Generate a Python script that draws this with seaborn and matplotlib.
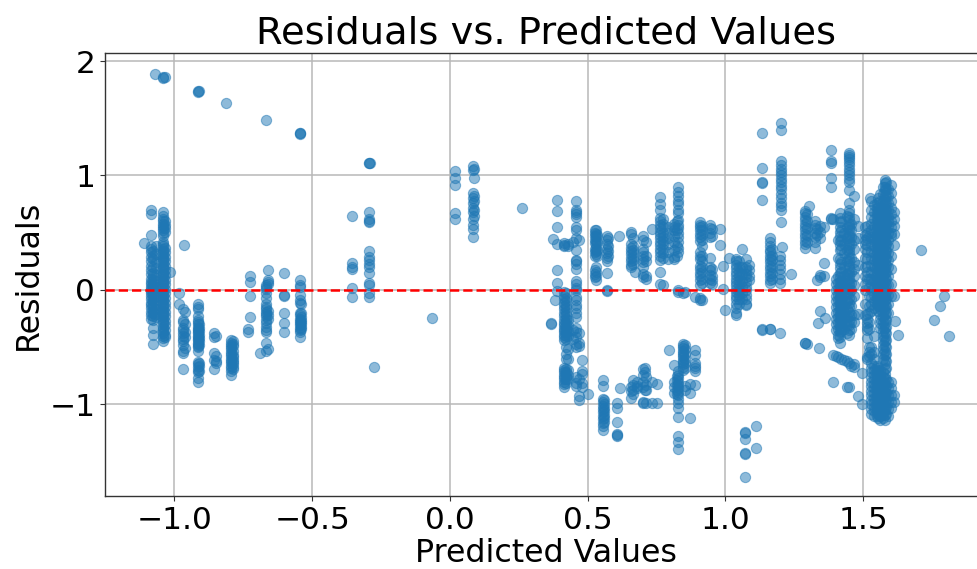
"""
Residuals vs. predicted values scatter
"""

import pandas as pd
import matplotlib
matplotlib.use('Agg')
import matplotlib.pyplot as plt
import seaborn as sns

# ─── Data (one list of residuals per predicted value) ───
arc_pred = [-1.07, -1.04, -1.04, -1.035, -0.914, -0.912, -0.915, -0.812, -0.667, -0.544, -0.544, -0.543,
            -0.292, -0.292, -0.291]
arc_resid = [1.89, 1.86, 1.855, 1.86, 1.735, 1.735, 1.73, 1.637, 1.488, 1.368, 1.365, 1.37,
             1.11, 1.105, 1.11]

left_pred = [-1.11, -1.086, -1.076, -1.068, -1.042, -1.036, -1.016, -0.983, -0.97, -0.964, -0.962, -0.914, -0.91,
             -0.856, -0.85, -0.793, -0.788, -0.733, -0.725, -0.69, -0.668, -0.66, -0.604, -0.544, -0.54]
left_resid = [
    [0.41],
    [0.70, 0.667, 0.48, 0.38, 0.36, 0.33, 0.29, 0.25, 0.21, 0.17, 0.14, 0.10, 0.07, 0.05, 0.03, 0.01, -0.01,
     -0.03, -0.05, -0.08, -0.11, -0.13, -0.16, -0.19, -0.22, -0.25],
    [0.34, 0.30, 0.27, 0.20, 0.15, 0.12, 0.09, 0.06, 0.04, 0.02, 0.0, -0.02, -0.04, -0.07, -0.1, -0.12, -0.15,
     -0.18, -0.2, -0.23, -0.26, -0.33, -0.39, -0.47],
    [0.38, 0.31, 0.24, 0.19, 0.13, 0.08, 0.03, -0.02, -0.06, -0.12, -0.17, -0.21, -0.24],
    [0.68, 0.65, 0.62, 0.60, 0.58, 0.56, 0.54, 0.52, 0.50, 0.47, 0.42, 0.40, 0.38, 0.36, 0.34, 0.32, 0.30, 0.28,
     0.26, 0.24, 0.22, 0.20, 0.18, 0.16, 0.14, 0.12, 0.10, 0.08, 0.06, 0.04, 0.02, 0.0, -0.02, -0.04, -0.06,
     -0.08, -0.10, -0.12, -0.14, -0.16, -0.18, -0.20, -0.22, -0.24, -0.26, -0.28, -0.30, -0.32, -0.34, -0.36,
     -0.38, -0.40, -0.42, -0.45],
    [0.60, 0.57, 0.54, 0.51, 0.37, 0.33, 0.29, 0.25, 0.21, 0.17, 0.13, 0.09, 0.05, 0.01, -0.03, -0.07, -0.11,
     -0.15, -0.19, -0.23, -0.27, -0.31, -0.35, -0.39, -0.41],
    [0.16],
    [-0.03, -0.125],
    [-0.17, -0.26, -0.28, -0.33, -0.35, -0.38, -0.40, -0.43, -0.45, -0.48, -0.53, -0.55, -0.69],
    [0.395],
    [-0.19, -0.30, -0.37, -0.41, -0.51],
    [-0.12, -0.15, -0.17, -0.23, -0.26, -0.28, -0.30, -0.32, -0.34, -0.35, -0.37, -0.38, -0.40, -0.41, -0.43,
     -0.44, -0.46, -0.47, -0.49, -0.50, -0.53, -0.63, -0.65, -0.67, -0.70, -0.72, -0.77, -0.80],
    [-0.30, -0.33, -0.36, -0.39, -0.42, -0.45, -0.48, -0.64, -0.66, -0.71],
    [-0.38, -0.41, -0.555, -0.61, -0.69],
    [-0.40, -0.575, -0.62, -0.64],
    [-0.44, -0.46, -0.48, -0.50, -0.52, -0.54, -0.56, -0.58, -0.60, -0.62, -0.64, -0.66, -0.68, -0.71, -0.745],
    [-0.45, -0.47, -0.49, -0.53, -0.57, -0.59, -0.61, -0.63, -0.65, -0.67, -0.69],
    [-0.365, -0.34],
    [0.07, -0.05, -0.235, 0.12],
    [-0.555],
    [0.045, 0.03, 0.01, -0.03, -0.07, -0.12, -0.15, -0.17, -0.19, -0.21, -0.23, -0.26, -0.29, -0.32, -0.35,
     -0.37, -0.46, -0.53],
    [0.17, 0.09, 0.07, 0.05, -0.18, -0.22, -0.25, -0.52],
    [0.15, -0.045, -0.05, -0.205, -0.285, -0.365],
    [0.09, 0.045, 0.025, -0.04, -0.085, -0.115, -0.2, -0.22, -0.25, -0.27, -0.29, -0.31, -0.33, -0.35, -0.37,
     -0.41],
    [-0.12, -0.2, -0.24, -0.26, -0.28, -0.30, -0.32, -0.34],
]

mid_pred = [-0.356, -0.292, -0.274, -0.064, 0.02, 0.085, 0.088, 0.26]
mid_resid = [
    [0.65, 0.234, 0.20, 0.185, 0.015, -0.06],
    [0.68, 0.62, 0.60, 0.59, 0.336, 0.29, 0.26, 0.23, 0.2, 0.146, 0.06, 0.04, -0.03, -0.06],
    [-0.675],
    [-0.243],
    [1.04, 0.98, 0.92, 0.67, 0.62],
    [1.08, 1.05, 0.85, 0.80, 0.76, 0.72, 0.68, 0.62, 0.57, 0.53, 0.46],
    [1.06, 0.98, 0.82, 0.78, 0.70, 0.65],
    [0.72],
]

low_pred = [0.366, 0.373, 0.38, 0.39, 0.415, 0.42, 0.43, 0.445, 0.459, 0.47, 0.48, 0.50]
low_resid = [
    [-0.286, -0.30],
    [0.443],
    [-0.087],
    [0.787, 0.69, 0.554, 0.40, 0.17, 0.058, -0.01],
    [0.41, 0.39, 0.38, -0.02, -0.05, -0.08, -0.11, -0.14, -0.17, -0.20, -0.23, -0.26, -0.29, -0.31, -0.33, -0.35,
     -0.37, -0.39, -0.41, -0.44, -0.68, -0.70, -0.72, -0.74, -0.76, -0.78, -0.80, -0.82, -0.845],
    [-0.03, -0.07, -0.10, -0.13, -0.16, -0.19, -0.22, -0.25, -0.28, -0.31, -0.34, -0.37, -0.40, -0.43, -0.50,
     -0.56, -0.60, -0.69, -0.72, -0.75, -0.78, -0.81],
    [0.40, 0.38, -0.26, -0.31, -0.36, -0.40, -0.52, -0.60, -0.70, -0.74, -0.78],
    [0.42, -0.35, -0.43],
    [0.78, 0.70, 0.68, 0.66, 0.64, 0.55, 0.52, 0.45, 0.35, 0.26, 0.25, 0.23, 0.18, 0.08, 0.05, 0.02, 0.0, -0.06,
     -0.09, -0.13, -0.16, -0.20, -0.24, -0.33, -0.37, -0.41, -0.47, -0.50, -0.76, -0.81, -0.84],
    [0.44, -0.38, -0.46, -0.49, -0.78, -0.93, -0.96],
    [-0.61, -0.81, -0.85, -0.73, -0.71],
    [-0.91],
]

center_pred = [0.525, 0.53, 0.535, 0.554, 0.56, 0.569, 0.575, 0.607, 0.613, 0.617, 0.657, 0.665, 0.67, 0.68,
               0.702, 0.71, 0.708, 0.732, 0.75, 0.762, 0.775, 0.79, 0.796, 0.813, 0.825, 0.829, 0.847, 0.852,
               0.87, 0.889, 0.907, 0.915, 0.943, 0.95, 0.98, 0.99, 1.0, 1.013, 1.04, 1.05, 1.06, 1.07, 1.076,
               1.085, 1.11]
center_resid = [
    [0.52, 0.50, 0.47, 0.44, 0.41, 0.36, 0.33, 0.30, 0.17, 0.14, 0.11],
    [0.525, 0.49, 0.46, 0.43, 0.40, 0.37, 0.34, 0.31, 0.20, 0.16, 0.12, 0.09],
    [0.48, 0.42, 0.35, 0.30],
    [-0.79, -0.84, -0.95, -0.98, -1.01, -1.04, -1.07, -1.10, -1.13, -1.16, -1.19, -1.22],
    [-0.96, -1.00, -1.03, -1.06, -1.09, -1.12, -1.15],
    [0.47, 0.44, 0.40, 0.36, 0.32, 0.28, 0.25, 0.15, 0.0, -0.005],
    [0.45, 0.38, 0.34, 0.30],
    [-0.99, -1.035, -1.15, -1.26, -1.27, -1.28],
    [0.47],
    [-0.86],
    [0.51, 0.49, 0.40, 0.37, 0.34, 0.31, 0.28, 0.25, 0.22, 0.20, -0.85, -0.88, -0.94],
    [0.45, 0.38, 0.35, 0.32, 0.29, 0.26, 0.23, -0.79, -0.83, -0.87, -0.91],
    [0.16],
    [-0.80, -0.84, -0.86],
    [0.47, 0.44, 0.36, 0.33, 0.30, 0.27, 0.24, 0.20, 0.14, 0.11, -0.69, -0.74, -0.80, -0.85, -0.98, -0.99],
    [0.42, 0.30, 0.25, 0.12, 0.10, -0.76, -0.83, -0.87, -0.99],
    [-0.685, -0.72, -0.875],
    [0.53, -0.80, -0.99],
    [-0.82, -0.99],
    [0.816, 0.75, 0.70, 0.63, 0.60, 0.57, 0.54, 0.51, 0.48, 0.45, 0.42, 0.39, 0.36, 0.33, 0.30, 0.26, 0.16, 0.05],
    [0.62, 0.58, 0.55, 0.50, 0.46, 0.43, 0.40, 0.36, 0.32, 0.28, 0.044],
    [0.55, 0.50, 0.45, 0.40, 0.33, 0.27],
    [-0.525],
    [0.58, 0.55, 0.52, 0.47, 0.42, 0.35, 0.29, 0.27, -0.655, -0.80, -0.85, -0.90],
    [0.60, 0.52, 0.38, 0.30, -0.75, -0.79, -0.83, -0.87, -0.91],
    [0.90, 0.86, 0.82, 0.78, 0.75, 0.70, 0.67, 0.61, 0.57, 0.54, 0.50, 0.46, 0.42, 0.37, 0.33, 0.0, -0.015,
     -0.71, -0.74, -0.77, -0.80, -0.83, -0.86, -0.89, -0.92, -0.95, -0.99, -1.03, -1.11, -1.28, -1.33, -1.39],
    [-0.03, -0.47, -0.49, -0.51, -0.53, -0.55, -0.57, -0.59, -0.61, -0.63, -0.65, -0.67, -0.70],
    [-0.02, -0.48, -0.52, -0.56, -0.60, -0.64, -0.68, -0.84, -0.87],
    [-1.12, -0.82, -0.90],
    [-0.06, -0.525, -0.57, -0.64, -0.66, -0.68, -0.71, -0.83],
    [0.59, 0.57, 0.55, 0.52, 0.49, 0.46, 0.43, 0.33, 0.30, 0.27, 0.21, 0.18, 0.15, 0.12, 0.09, 0.04, -0.07, -0.09],
    [0.56, 0.52, 0.48, 0.44, 0.38, 0.30, 0.25, 0.20, 0.16, 0.10, 0.06, -0.09],
    [0.57, 0.54, 0.50, 0.46, 0.28, 0.20, 0.17, 0.13, 0.10, 0.06],
    [0.53, 0.47, 0.18, 0.12, 0.09, 0.05],
    [0.53, 0.39],
    [0.21, 0.005],
    [-0.175],
    [0.28],
    [0.27, 0.25, 0.22, 0.19, 0.16, 0.13, 0.10, 0.07, 0.04, 0.01, -0.02, -0.05, -0.08, -0.12, -0.16, -0.20, -0.22],
    [0.25, 0.20, 0.16, 0.12, 0.08, 0.04, 0.0, -0.04, -0.08, -0.12],
    [0.36, 0.20, 0.14, 0.08, 0.03, -0.03, -0.08],
    [-1.24, -1.30, -1.42, -1.63, -1.25, -1.43],
    [0.27, 0.20, 0.17, 0.14, 0.11, 0.07, 0.03, 0.0, -0.04, -0.08, -0.12, -0.13],
    [0.22, 0.17, 0.12, 0.09],
    [-1.19, -1.385],
]

upper_pred = [1.134, 1.16, 1.17, 1.197, 1.2, 1.206, 1.237, 1.288, 1.295, 1.303, 1.324, 1.333, 1.342, 1.357,
              1.336, 1.36, 1.34]
upper_resid = [
    [1.37, 1.065, 0.94, 0.93, 0.785, -0.345, -0.35],
    [0.455, 0.42, 0.38, 0.35, 0.33, 0.30, 0.27, 0.24, 0.21, 0.18, 0.15, 0.12, 0.09, 0.06, -0.34, -0.345],
    [0.36, 0.30, 0.26, 0.20, 0.15, 0.10],
    [0.30, 0.26, 0.22, 0.18, 0.14, 0.10, 0.06, -0.376],
    [1.46, 1.395, 1.125, 1.09, 1.06, 1.03, 1.0, 0.97, 0.94, 0.91, 0.88, 0.84, 0.80, 0.76, 0.73, 0.70, 0.59],
    [0.373],
    [0.14],
    [0.69, 0.67, 0.64, 0.61, 0.58, 0.55, 0.52, 0.49, 0.46, 0.43, 0.40, 0.37, -0.46, -0.465],
    [0.66, 0.60, 0.54, 0.48, 0.42, -0.47],
    [0.735],
    [0.60, 0.57, 0.54, 0.50, 0.46, 0.42, 0.37],
    [0.53, 0.48, 0.09],
    [0.555, 0.51, 0.45, 0.11, 0.13, -0.18],
    [0.55, 0.235, 0.12],
    [-0.29],
    [-0.245],
    [-0.51],
]

right_pred = [1.382, 1.39, 1.40, 1.41, 1.415, 1.42, 1.43, 1.44, 1.449, 1.455, 1.465, 1.48, 1.494, 1.505, 1.512,
              1.52, 1.524, 1.53, 1.54, 1.549, 1.555, 1.56, 1.573, 1.578, 1.583, 1.59, 1.60, 1.61, 1.615,
              1.627, 1.71, 1.794, 1.78, 1.758, 1.81]
right_resid = [
    [1.22, 1.125, 1.11, 0.98, 0.90, 0.63, 0.62],
    [0.62, -0.565, -0.805],
    [0.10, 0.05, 0.0, -0.05, -0.10, -0.15, -0.20, -0.25, -0.30, -0.35, -0.575],
    [0.44, 0.28, 0.12, 0.06, 0.01, -0.04, -0.09, -0.14, -0.19, -0.24, -0.29, -0.34, -0.39, -0.42, -0.59],
    [0.67, 0.63, 0.59, 0.55, 0.51, 0.47, 0.43, 0.39, 0.35, 0.27, 0.23, 0.19, 0.15, 0.11, 0.07, 0.03, -0.01, -0.05,
     -0.09, -0.13, -0.17, -0.21, -0.25, -0.29, -0.33, -0.37, -0.41, -0.46],
    [0.60, 0.52, 0.44, 0.36, 0.24, 0.16, 0.08, 0.04, 0.0, -0.04, -0.08, -0.12, -0.16, -0.20, -0.24, -0.28, -0.32,
     -0.36, -0.60],
    [0.50, 0.40, 0.32, 0.20, 0.12, 0.06, 0.01, -0.04, -0.09, -0.14, -0.19, -0.24, -0.29, -0.34, -0.61],
    [0.65, 0.55, 0.45, 0.35, 0.25, 0.14, 0.08, 0.02, -0.03, -0.10, -0.17, -0.24, -0.31, -0.38, -0.62, -0.85],
    [1.20, 1.18, 1.16, 1.14, 1.12, 1.09, 1.06, 1.03, 1.0, 0.97, 0.94, 0.875, 0.76, 0.70, 0.67, 0.64, 0.61, 0.58,
     0.55, 0.52, 0.49, 0.46, 0.43, 0.40, 0.37, 0.34, 0.31, 0.28, 0.25, 0.22, 0.19, 0.16, 0.13, 0.10, 0.07, 0.04,
     0.01, -0.03, -0.07, -0.11, -0.15, -0.19, -0.23, -0.27, -0.31, -0.35, -0.39, -0.64, -0.85],
    [0.58, 0.52, 0.46, 0.40, 0.28, 0.16, 0.06, 0.0, -0.08, -0.14, -0.22, -0.28, -0.34, -0.66],
    [0.82, 0.62, 0.44, 0.36, 0.24, 0.18, 0.12, 0.04, -0.05, -0.22, -0.28, -0.65, -0.67],
    [-0.925, 0.56, 0.45, 0.22, -0.21],
    [-0.725, -1.0],
    [0.55, 0.48, 0.44, 0.40, 0.36, 0.28, 0.20, 0.12, 0.05, 0.0, -0.12, -0.22],
    [0.56, 0.50, 0.45, 0.39, 0.33, 0.27, 0.21, 0.16, 0.10, -0.21, -0.25, -0.29, -0.32, -0.35, -0.42, -0.59, -0.60],
    [0.47, 0.10, 0.03, -0.05, -0.14, -0.20, -0.28, -0.34, -0.50, -0.54, -0.58],
    [0.80],
    [0.78, 0.70, 0.64, 0.58, 0.52, 0.46, 0.40, 0.34, 0.28, 0.22, 0.16, 0.10, 0.05, 0.0, -0.06, -0.12, -0.18, -0.50,
     -0.56, -0.64, -0.68, -0.72, -0.76, -0.80, -0.84, -0.88, -0.92, -0.96, -1.0, -1.04, -1.08],
    [0.74, 0.68, 0.62, 0.56, 0.50, 0.44, 0.38, 0.32, 0.26, 0.20, 0.14, 0.08, 0.02, -0.04, -0.10, -0.16, -0.40, -0.54,
     -0.60, -0.66, -0.70, -0.74, -0.78, -0.82, -0.86, -0.90, -0.94, -0.98, -1.02, -1.06, -1.10],
    [0.76, 0.72, 0.68, 0.64, 0.60, 0.56, 0.52, 0.48, 0.44, 0.40, 0.36, 0.32, 0.28, 0.24, 0.20, 0.16, 0.12, 0.08, 0.04,
     0.0, -0.04, -0.08, -0.12, -0.66, -0.70, -0.74, -0.78, -0.82, -0.86, -0.90, -0.94, -0.98, -1.02, -1.06, -1.10],
    [0.80, 0.74, 0.70, 0.66, 0.62, 0.58, 0.54, 0.50, 0.46, 0.42, 0.38, 0.34, 0.30, 0.26, 0.22, 0.18, 0.14, 0.10, 0.06,
     0.02, -0.02, -0.06, -0.10, -0.14, -0.18, -0.68, -0.72, -0.76, -0.80, -0.84, -0.88, -0.92, -0.96, -1.0, -1.04,
     -1.08, -1.12],
    [0.84, 0.78, 0.72, 0.67, 0.63, 0.59, 0.55, 0.51, 0.47, 0.43, 0.39, 0.35, 0.31, 0.27, 0.23, 0.19, 0.15, 0.11, 0.07,
     0.03, -0.01, -0.05, -0.09, -0.13, -0.17, -0.21, -0.25, -0.29, -0.33, -0.70, -0.74, -0.78, -0.82, -0.86, -0.90,
     -0.94, -0.98, -1.02, -1.06, -1.10, -1.14],
    [0.90, 0.84, 0.78, 0.72, 0.68, 0.64, 0.60, 0.56, 0.52, 0.48, 0.44, 0.40, 0.36, 0.32, 0.28, 0.24, 0.20, 0.16, 0.12,
     0.08, 0.04, 0.0, -0.04, -0.08, -0.12, -0.16, -0.20, -0.24, -0.28, -0.32, -0.36, -0.40, -0.44, -0.48, -0.52, -0.56,
     -0.60, -0.72, -0.76, -0.80, -0.84, -0.88, -0.92, -0.96, -1.0, -1.04, -1.08, -1.12],
    [0.96, 0.93, 0.90, 0.87, 0.83, 0.79, 0.75, 0.71, 0.67, 0.63, 0.59, 0.55, 0.51, 0.47, 0.43, 0.39, 0.35, 0.31, 0.27,
     0.23, 0.19, 0.15, 0.11, 0.07, 0.03, -0.01, -0.05, -0.09, -0.13, -0.17, -0.21, -0.25, -0.29, -0.33, -0.37, -0.41,
     -0.45, -0.49, -0.53, -0.57, -0.61, -0.65, -0.69, -0.73, -0.77, -0.81, -0.85, -0.89, -0.93, -0.97, -1.01, -1.05,
     -1.09, -1.14],
    [0.94, 0.88, 0.82, 0.76, 0.70, 0.64, 0.58, 0.52, 0.46, 0.40, 0.34, 0.28, 0.22, 0.16, 0.10, 0.04, -0.02, -0.08,
     -0.14, -0.20, -0.26, -0.32, -0.38, -0.44, -0.50, -0.56, -0.62, -0.68, -0.78, -0.84, -0.90, -0.96, -1.02, -1.08],
    [0.88, 0.82, 0.76, 0.70, 0.64, 0.60, 0.56, 0.50, 0.44, 0.38, 0.32, 0.26, 0.20, 0.12, 0.04, -0.04, -0.12, -0.20,
     -0.80, -0.86, -0.92, -0.98, -1.04, -1.10],
    [0.92, 0.85, 0.78, 0.72, 0.66, 0.60, 0.55, 0.50, 0.47, 0.30, 0.18, 0.05, -0.05, -0.80, -0.86, -0.92, -0.98, -1.03],
    [0.68, 0.62, 0.56, 0.49, 0.39, -0.05, -0.92, -0.98],
    [-0.27],
    [-0.396],
    [0.35],
    [-0.055],
    [-0.14],
    [-0.26],
    [-0.405],
]

# ─── Table ────────────────────────────────────────────────────────────────────
pred_all = list(arc_pred)
resid_all = list(arc_resid)
for preds, resids in [(left_pred, left_resid), (mid_pred, mid_resid), (low_pred, low_resid),
                      (center_pred, center_resid), (upper_pred, upper_resid), (right_pred, right_resid)]:
    for p, col in zip(preds, resids):
        pred_all.extend([p] * len(col))
        resid_all.extend(col)

df = pd.DataFrame({'pred': pred_all, 'resid': resid_all})

# ─── Plot ─────────────────────────────────────────────────────────────────────
sns.set_style('ticks')
plt.rcParams['font.family'] = ['DejaVu Sans']

W, H = 977, 569
fig = plt.figure(figsize=(W / 100, H / 100), dpi=100)
ax = fig.add_axes([105 / W, 1 - 496 / H, 880 / W, 443 / H])

sns.scatterplot(data=df, x='pred', y='resid', color='#1f77b4', alpha=0.5, s=54,
                edgecolor='#1f77b4', linewidth=0.8, ax=ax, zorder=3)
ax.axhline(0, color='red', linestyle='--', linewidth=1.8, zorder=4)

ax.set_xlim(-1.252, 1.942)
ax.set_ylim(-1.80, 2.07)
ax.set_xticks([-1.0, -0.5, 0.0, 0.5, 1.0, 1.5])
ax.set_yticks([-1, 0, 1, 2])
ax.grid(True, color='#b8b8b8', linewidth=1.1)
ax.set_axisbelow(True)
ax.tick_params(labelsize=22.5, length=3.5, width=0.8, color='#333333', labelcolor='black')
for s in ax.spines.values():
    s.set_linewidth(1.0)
    s.set_color('#333333')

ax.set_title('Residuals vs. Predicted Values', fontsize=27.6, pad=7, color='black', x=(546 - 105) / 880)
ax.set_xlabel('Predicted Values', fontsize=22.8, labelpad=2, color='black', x=(546 - 105) / 880)
ax.set_ylabel('Residuals', fontsize=22.8, labelpad=4, color='black')

fig.savefig('out.png', dpi=100)
